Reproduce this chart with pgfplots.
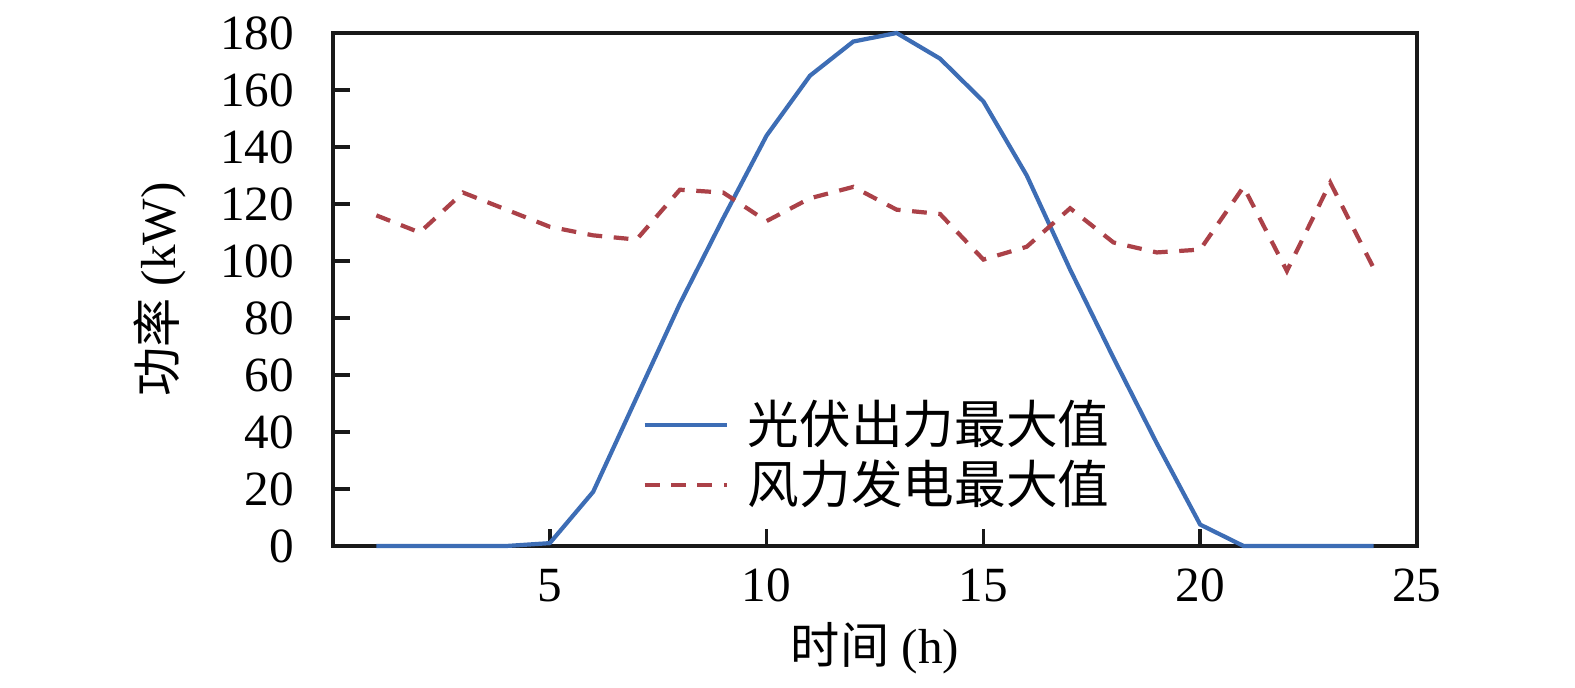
\documentclass[border=0pt]{standalone}
\usepackage{fontspec}
\setmainfont{Liberation Serif}
\newfontfamily\cjk{Noto Sans CJK SC}
\usepackage{pgfplots}
\pgfplotsset{compat=1.18}
\definecolor{pvblue}{RGB}{61,109,181}
\definecolor{windred}{RGB}{171,65,72}
\begin{document}
\fontsize{14pt}{16pt}\selectfont
\begin{tikzpicture}
\path[use as bounding box] (-3.33cm,-1.42cm) rectangle (12.42cm,5.46cm);
\begin{axis}[
  at={(0,0)}, anchor=south west,
  scale only axis,
  width=10.84cm, height=5.13cm,
  xmin=0, xmax=25, ymin=0, ymax=180,
  xtick={5,10,15,20,25},
  ytick={0,20,...,180},
  tick align=inside,
  xtick pos=bottom, ytick pos=left,
  major tick length=0.17cm,
  axis line style={line width=1pt, black!90},
  every tick/.style={line width=1pt, black!90},
  tick label style={font=\fontsize{14pt}{16pt}\selectfont},
  /pgf/number format/assume math mode=true,
  xticklabel style={yshift=-0.06cm},
  yticklabel style={xshift=-0.22cm},
  xlabel={{\cjk 时间} (h)},
  ylabel={{\cjk 功率} (kW)},
  label style={font=\fontsize{15pt}{16pt}\selectfont},
  every axis x label/.style={at={(rel axis cs:0.5,0)}, anchor=center, yshift=-1.02cm},
  every axis y label/.style={at={(rel axis cs:0,0.5)}, xshift=-1.73cm, anchor=center, rotate=90},
  legend style={draw=none, fill=none, at={(rel axis cs:0.285,0.30)}, anchor=north west,
    font=\fontsize{14.7pt}{16pt}\selectfont\cjk, row sep=-0.05cm, inner sep=0pt,
    /tikz/every even column/.append style={column sep=0.05cm}},
  legend cell align=left,
  legend image code/.code={\draw[#1] (0cm,0cm) -- (0.82cm,0cm);},
  clip=false,
]
\addplot[pvblue, line width=1.2pt] coordinates {
(1,0) (2,0) (3,0) (4,0) (5,1) (6,19) (7,52) (8,85) (9,115) (10,144) (11,165) (12,177)
(13,180) (14,171) (15,156) (16,130) (17,97) (18,66) (19,36) (20,7.5) (21,0) (22,0) (23,0) (24,0)
};
\addlegendentry{\hspace{0.12cm}光伏出力最大值}
\addplot[windred, line width=1.2pt, dash pattern=on 4.2pt off 3.3pt] coordinates {
(1,116) (2,110) (3,124) (4,118) (5,112) (6,109) (7,107.5) (8,125) (9,124) (10,114) (11,122) (12,126)
(13,118) (14,116.5) (15,100.5) (16,105) (17,118.5) (18,106.5) (19,103) (20,104) (21,126) (22,96.5) (23,127.5) (24,97.5)
};
\addlegendentry{\hspace{0.12cm}风力发电最大值}
\end{axis}
\end{tikzpicture}
\end{document}
